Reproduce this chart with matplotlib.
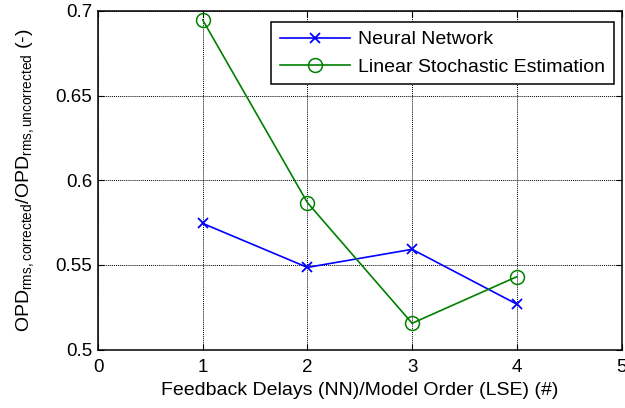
import matplotlib
matplotlib.use("Agg")
import matplotlib.pyplot as plt

plt.rcParams['font.family'] = ['Liberation Sans', 'DejaVu Sans']
plt.rcParams['mathtext.fontset'] = 'custom'
plt.rcParams['mathtext.rm'] = 'Liberation Sans'
plt.rcParams['mathtext.it'] = 'Liberation Sans:italic'

# feedback delays / model order
orders = [1, 2, 3, 4]
nn_ratio = [0.5745, 0.5485, 0.5592, 0.5268]
lse_ratio = [0.6947, 0.5868, 0.5155, 0.5430]

x_ticks = [0, 1, 2, 3, 4, 5]
y_ticks = [0.5, 0.55, 0.6, 0.65, 0.7]
y_ticklabels = ['0.5', '0.55', '0.6', '0.65', '0.7']

fig = plt.figure(figsize=(6.25, 4.08), dpi=100)
ax = fig.add_axes([98 / 625, 1 - 349.5 / 408, (621.5 - 98) / 625, (349.5 - 11) / 408])

ax.plot(orders, nn_ratio, color='#0000ff', marker='x', markersize=7,
        markeredgewidth=1.3, linewidth=1.2, label='Neural Network')
ax.plot(orders, lse_ratio, color='#008000', marker='o', markersize=10,
        markerfacecolor='none', markeredgewidth=1.1, linewidth=1.2,
        label='Linear Stochastic Estimation')

ax.set_xlim(0, 5)
ax.set_ylim(0.5, 0.7)
ax.set_xticks(x_ticks)
ax.set_yticks(y_ticks)
ax.set_yticklabels(y_ticklabels)
ax.tick_params(direction='in', top=True, right=True, length=4, width=0.8,
               labelsize=13.5, colors='black')
ax.tick_params(axis='x', pad=7)
ax.tick_params(axis='y', pad=4)

ax.grid(True, color='black', linestyle=(0, (1, 1)), linewidth=0.7)
for s in ax.spines.values():
    s.set_linewidth(1.1)

ax.set_xlabel('Feedback Delays (NN)/Model Order (LSE) (#)', fontsize=14, labelpad=4)
ax.set_ylabel(r'OPD$_{\mathrm{rms,corrected}}$/OPD$_{\mathrm{rms,uncorrected}}$ (-)',
              fontsize=14, labelpad=14)

leg = ax.legend(loc='upper right', bbox_to_anchor=(1.0 - 8 / 523.5, 1.0 - 11 / 338.5),
                fontsize=14, fancybox=False, framealpha=1, edgecolor='black',
                borderpad=0.45, labelspacing=0.5, handlelength=3.6,
                handletextpad=0.4, borderaxespad=0)
leg.get_frame().set_linewidth(1.1)

fig.savefig('out.png', dpi=100)
